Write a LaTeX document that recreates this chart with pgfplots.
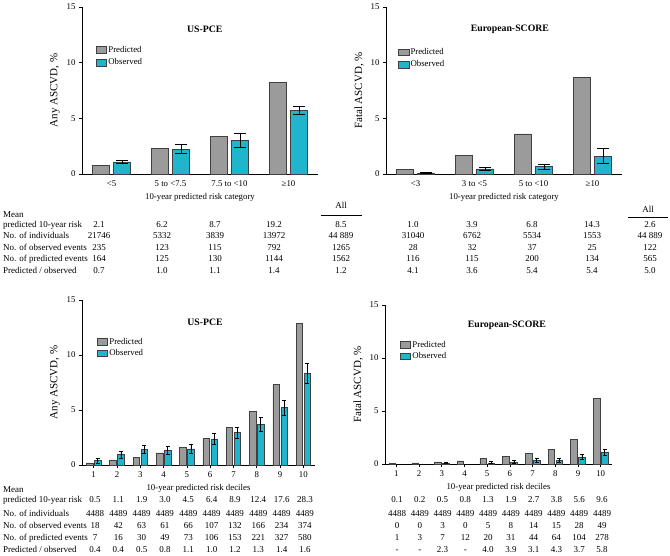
\documentclass[border=0pt]{standalone}
\usepackage{pgfplots}
\pgfplotsset{compat=1.18}
\usepackage{fontspec}
\setmainfont{Liberation Serif}
\definecolor{predgrey}{RGB}{155,155,155}
\definecolor{obscyan}{RGB}{32,180,205}
\newcommand{\fs}{\fontsize{8.8}{10}\selectfont}
\newcommand{\ft}{\fontsize{9}{10}\selectfont}
\pgfplotsset{
  base/.style={
    scale only axis, anchor=south west,
    axis lines=left, axis line style={-, line width=0.6pt},
    ymin=0, ymax=15, ytick={0,5,10,15},
    tick align=outside, major tick length=3pt,
    tick style={line width=0.6pt, black},
    /pgf/number format/assume math mode=true,
    ticklabel style={font=\fs},
    xlabel style={font=\fs},
    ylabel style={font=\fontsize{11}{12}\selectfont},
    ybar, clip=false,
  },
  leg/.style={
    legend image code/.code={\draw[##1] (0pt,-3.3pt) rectangle (10.5pt,3.3pt);},
    legend style={draw=none, fill=none, font=\fs, anchor=north west,
      legend cell align=left, inner sep=0pt, row sep=#1,
      nodes={inner sep=1.5pt}},
  },
  pred/.style={fill=predgrey, draw=black!75, line width=0.5pt},
  obs/.style={fill=obscyan, draw=black!75, line width=0.5pt,
     error bars/.cd, y dir=both, y explicit,
     error bar style={black, line width=0.6pt},
     error mark options={black, line width=0.6pt, mark size=#1, rotate=90}},
}
\begin{document}
\begin{tikzpicture}
\path (0pt,0pt) rectangle (670pt,-556pt);
% ---------------- Top left
\begin{axis}[base, at={(82pt,-174pt)}, width=236pt, height=167pt,
  xmin=-0.5, xmax=3.5, bar width=17pt, ybar=4pt,
  xtick={0,1,2,3}, xticklabels={{<5},{5 to <7.5},{7.5 to <10},{≥10}},
  x tick style={draw=none},
  xlabel={10-year predicted risk category}, ylabel={Any ASCVD, \%},
  leg=2pt, legend style={at={(0.058,0.776)}}]
\addplot[pred] coordinates {(0,0.8) (1,2.3) (2,3.4) (3,8.2)};
\addplot[obs=6pt] coordinates {(0,1.08) +- (0,0.14) (1,2.22) += (0,0.43) -= (0,0.4) (2,3.02) +- (0,0.6) (3,5.72) +- (0,0.4)};
\legend{Predicted, Observed}
\node[font=\bfseries\fontsize{9.8}{11}\selectfont] at (rel axis cs:0.52,0.868) {US-PCE};
\end{axis}
% ---------------- Top right
\begin{axis}[base, at={(386pt,-174pt)}, width=236pt, height=167pt,
  xmin=-0.5, xmax=3.5, bar width=17pt, ybar=4pt,
  xtick={0,1,2,3}, xticklabels={{<3},{3 to <5},{5 to <10},{≥10}},
  x tick style={draw=none},
  xlabel={10-year predicted risk category}, ylabel={Fatal ASCVD, \%},
  leg=1.5pt, legend style={at={(0.05,0.761)}}]
\addplot[pred] coordinates {(0,0.4) (1,1.7) (2,3.6) (3,8.7)};
\addplot[obs=6pt] coordinates {(0,0.09) += (0,0.05) -= (0,0.03) (1,0.47) +- (0,0.17) (2,0.67) +- (0,0.23) (3,1.6) += (0,0.75) -= (0,0.6)};
\legend{Predicted, Observed}
\node[font=\bfseries\fontsize{9.8}{11}\selectfont] at (rel axis cs:0.525,0.868) {European-SCORE};
\end{axis}
% ---------------- Bottom left
\begin{axis}[base, at={(82pt,-465pt)}, width=233pt, height=165pt,
  xmin=0.5, xmax=10.5, bar width=6.5pt, ybar=1.5pt,
  xtick={1,...,10},
  xlabel={10-year predicted risk deciles}, ylabel={Any ASCVD, \%},
  leg=1pt, legend style={at={(0.063,0.78)}}]
\addplot[pred] coordinates {(1,0.2) (2,0.4) (3,0.7) (4,1.1) (5,1.6) (6,2.4) (7,3.4) (8,4.9) (9,7.3) (10,12.9)};
\addplot[obs=2pt] coordinates {(1,0.40) +- (0,0.2) (2,0.94) +- (0,0.3) (3,1.40) +- (0,0.36) (4,1.36) +- (0,0.37) (5,1.47) +- (0,0.38) (6,2.38) +- (0,0.48) (7,2.94) +- (0,0.52) (8,3.70) +- (0,0.6) (9,5.21) +- (0,0.68) (10,8.33) +- (0,0.88)};
\legend{Predicted, Observed}
\node[font=\bfseries\fontsize{9.8}{11}\selectfont] at (rel axis cs:0.528,0.867) {US-PCE};
\end{axis}
% ---------------- Bottom right
\begin{axis}[base, at={(385pt,-464pt)}, width=227pt, height=159pt,
  xmin=0.5, xmax=10.5, bar width=6.5pt, ybar=1.5pt,
  xtick={1,...,10},
  xlabel={10-year predicted risk deciles}, ylabel={Fatal ASCVD, \%},
  leg=0.5pt, legend style={at={(0.065,0.783)}}]
\addplot[pred] coordinates {(1,0.03) (2,0.1) (3,0.2) (4,0.3) (5,0.5) (6,0.7) (7,1.0) (8,1.4) (9,2.3) (10,6.2)};
\addplot[obs=2pt] coordinates {(3,0.07) += (0,0.13) -= (0,0.05) (5,0.11) += (0,0.15) -= (0,0.08) (6,0.18) += (0,0.18) -= (0,0.1) (7,0.31) += (0,0.2) -= (0,0.15) (8,0.33) += (0,0.2) -= (0,0.15) (9,0.62) += (0,0.3) -= (0,0.22) (10,1.09) += (0,0.33) -= (0,0.3)};
\legend{Predicted, Observed}
\node[font=\bfseries\fontsize{9.8}{11}\selectfont] at (rel axis cs:0.537,0.874) {European-SCORE};
\end{axis}
% ---------------- Top tables
\begin{scope}[every node/.style={font=\ft, inner sep=0pt}]
\node[anchor=base west] at (3pt,-218pt) {Mean};
\node[anchor=base west] at (3pt,-227.5pt) {predicted 10-year risk};
\node[anchor=base west] at (3pt,-239pt) {No. of individuals};
\node[anchor=base west] at (3pt,-250.5pt) {No. of observed events};
\node[anchor=base west] at (3pt,-262pt) {No. of predicted events};
\node[anchor=base west] at (3pt,-273.5pt) {Predicted / observed};
\foreach \x/\a/\b/\c/\d/\e in {99/2.1/21746/235/164/0.7, 162/6.2/5332/123/125/1.0, 215/8.7/3839/115/130/1.1, 274/19.2/13972/792/1144/1.4, 341/8.5/44~889/1265/1562/1.2,
  413/1.0/31040/28/116/4.1, 472/3.9/6762/32/115/3.6, 532/6.8/5534/37/200/5.4, 592/14.3/1553/25/134/5.4, 650/2.6/44~889/122/565/5.0}{
  \node[anchor=base] at (\x pt,-227.5pt) {\a};
  \node[anchor=base] at (\x pt,-239pt) {\b};
  \node[anchor=base] at (\x pt,-250.5pt) {\c};
  \node[anchor=base] at (\x pt,-262pt) {\d};
  \node[anchor=base] at (\x pt,-273.5pt) {\e};
}
\node[anchor=base] at (341pt,-209pt) {All};
\draw[line width=0.6pt] (321pt,-215pt) -- (362pt,-215pt);
\node[anchor=base] at (648pt,-213pt) {All};
\draw[line width=0.6pt] (628pt,-217pt) -- (668pt,-217pt);
% ---------------- Bottom tables
\node[anchor=base west] at (3pt,-492pt) {Mean};
\node[anchor=base west] at (3pt,-502pt) {predicted 10-year risk};
\node[anchor=base west] at (3pt,-516pt) {No. of individuals};
\node[anchor=base west] at (3pt,-528.5pt) {No. of observed events};
\node[anchor=base west] at (3pt,-540.5pt) {No. of predicted events};
\node[anchor=base west] at (3pt,-552pt) {Predicted / observed};
\foreach \a/\b/\c/\d/\e [count=\i from 0] in {0.5/4488/18/7/0.4, 1.1/4489/42/16/0.4, 1.9/4489/63/30/0.5, 3.0/4489/61/49/0.8, 4.5/4489/66/73/1.1, 6.4/4489/107/106/1.0, 8.9/4489/132/153/1.2, 12.4/4489/166/221/1.3, 17.6/4489/234/327/1.4, 28.3/4489/374/580/1.6}{
  \pgfmathsetmacro{\xx}{95+23.33*\i}
  \node[anchor=base] at (\xx pt,-502pt) {\a};
  \node[anchor=base] at (\xx pt,-516pt) {\b};
  \node[anchor=base] at (\xx pt,-528.5pt) {\c};
  \node[anchor=base] at (\xx pt,-540.5pt) {\d};
  \node[anchor=base] at (\xx pt,-552pt) {\e};
}
\foreach \a/\b/\c/\d/\e [count=\i from 0] in {0.1/4488/0/1/-, 0.2/4489/0/3/-, 0.5/4489/3/7/2.3, 0.8/4489/0/12/-, 1.3/4489/5/20/4.0, 1.9/4489/8/31/3.9, 2.7/4489/14/44/3.1, 3.8/4489/15/64/4.3, 5.6/4489/28/104/3.7, 9.6/4489/49/278/5.8}{
  \pgfmathsetmacro{\xx}{397+22.78*\i}
  \node[anchor=base] at (\xx pt,-502pt) {\a};
  \node[anchor=base] at (\xx pt,-516pt) {\b};
  \node[anchor=base] at (\xx pt,-528.5pt) {\c};
  \node[anchor=base] at (\xx pt,-540.5pt) {\d};
  \node[anchor=base] at (\xx pt,-552pt) {\e};
}
\end{scope}
\end{tikzpicture}
\end{document}
